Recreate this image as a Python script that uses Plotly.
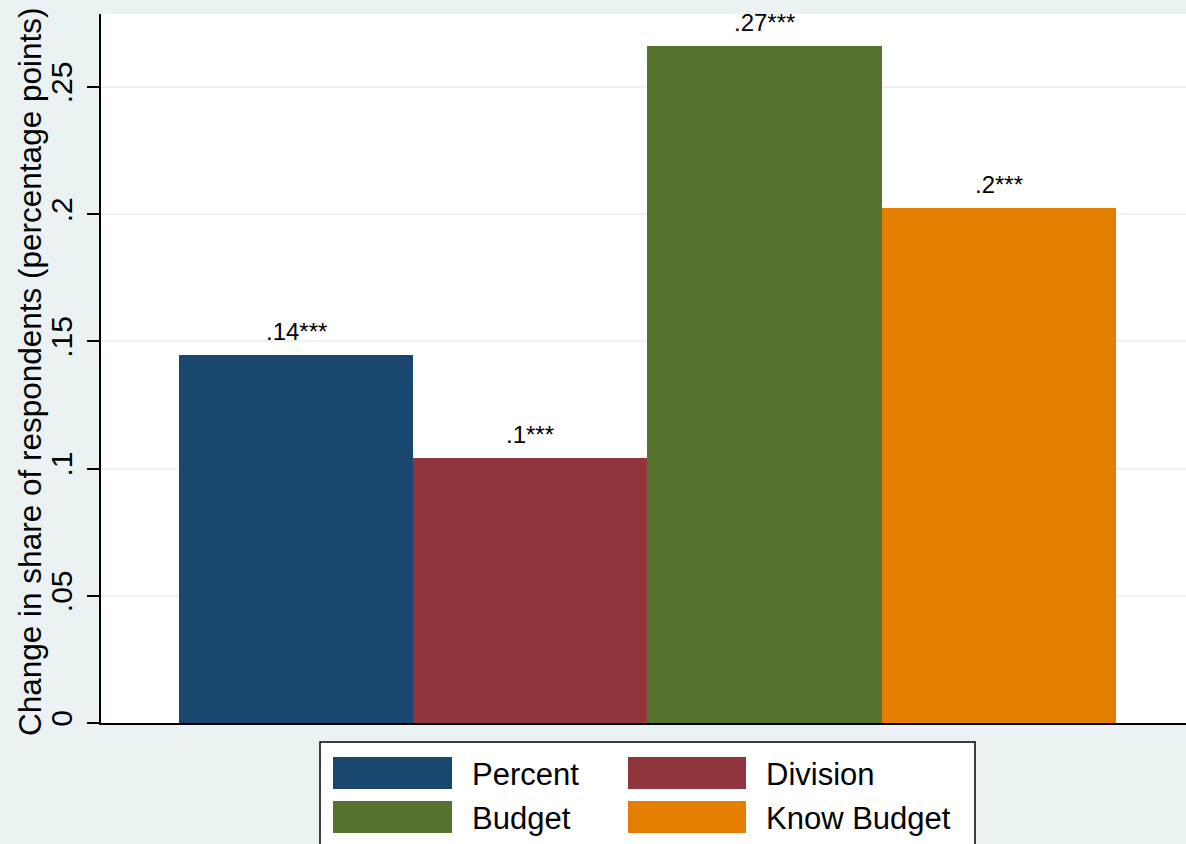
import plotly.graph_objects as go

# ---- data ----
categories = ["Percent", "Division", "Budget", "Know Budget"]
values = [0.1447, 0.1042, 0.2661, 0.2024]
bar_labels = [".14***", ".1***", ".27***", ".2***"]
colors = ["#1A476F", "#90353B", "#55752F", "#E37E00"]
tick_vals = [0, 0.05, 0.10, 0.15, 0.20, 0.25]
tick_text = ["0", ".05", ".1", ".15", ".2", ".25"]
y_title = "Change in share of respondents (percentage points)"

W, H = 1186, 844
L, R, T, B = 101, 0, 14, 121
PW, PH = W - L - R, H - T - B
BG = "#EAF2F3"
FONT = "Liberation Sans, Arial, Helvetica, sans-serif"

positions = list(range(1, len(categories) + 1))

fig = go.Figure()
fig.add_trace(go.Bar(
    x=positions, y=values, width=1.0,
    marker=dict(color=colors, line=dict(width=0)),
    showlegend=False, hoverinfo="skip",
))

for xp, v, lab in zip(positions, values, bar_labels):
    fig.add_annotation(x=xp, y=v, text=lab, showarrow=False, xref="x", yref="y",
                       yanchor="bottom", yshift=8,
                       font=dict(family=FONT, size=24, color="black"))

def px_x(px):
    return (px - L) / PW

def px_y(py):
    return (H - B - py) / PH

# y-axis title placed as rotated text
fig.add_annotation(xref="paper", yref="paper", x=px_x(30), y=px_y(372),
                   xanchor="center", yanchor="middle", textangle=-90,
                   text=y_title, showarrow=False,
                   font=dict(family=FONT, size=31.5, color="black"))

# custom legend (Stata-style)
shapes = []
shapes.append(dict(type="rect", xref="paper", yref="paper",
                   x0=px_x(320), x1=px_x(975), y0=px_y(860), y1=px_y(742),
                   fillcolor="white", line=dict(color="black", width=1.5), layer="above"))
sw_x = [(333, 452), (628, 746)]
sw_y = [(757, 789), (801, 833)]
txt_x = [470, 764]
for i, (name, col) in enumerate(zip(categories, colors)):
    r, c = divmod(i, 2)
    shapes.append(dict(type="rect", xref="paper", yref="paper",
                       x0=px_x(sw_x[c][0]), x1=px_x(sw_x[c][1]),
                       y0=px_y(sw_y[r][1]), y1=px_y(sw_y[r][0]),
                       fillcolor=col, line=dict(width=0), layer="above"))
    fig.add_annotation(xref="paper", yref="paper", x=px_x(txt_x[c]),
                       y=px_y((sw_y[r][0] + sw_y[r][1]) / 2 + 1),
                       xanchor="left", yanchor="middle", text=name, showarrow=False,
                       font=dict(family=FONT, size=31, color="black"))

fig.update_layout(
    width=W, height=H,
    margin=dict(l=L, r=R, t=T, b=B, pad=0),
    paper_bgcolor=BG, plot_bgcolor="white",
    font=dict(family=FONT, color="black"),
    shapes=shapes,
    bargap=0,
)
fig.update_xaxes(range=[0.167, 4.799], showline=True, linecolor="black", linewidth=2,
                 showgrid=False, zeroline=False, showticklabels=False, ticks="",
                 fixedrange=True)
fig.update_yaxes(range=[0, 0.2787], tickvals=tick_vals, ticktext=tick_text,
                 tickangle=-90, ticks="outside", ticklen=12, tickwidth=2, tickcolor="black",
                 showline=True, linecolor="black", linewidth=2,
                 showgrid=True, gridcolor=BG, gridwidth=2, zeroline=False,
                 tickfont=dict(family=FONT, size=30, color="black"),
                 ticklabelstandoff=3,
                 automargin=False)

fig.write_html("out.html")
